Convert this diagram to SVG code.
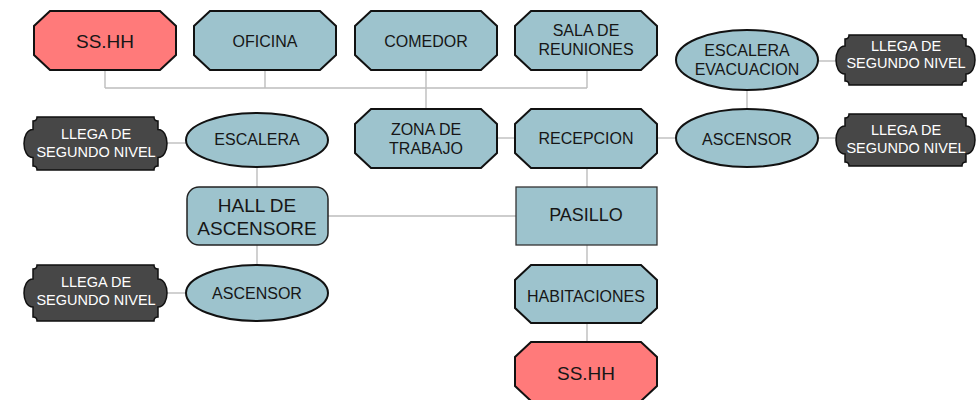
<svg xmlns="http://www.w3.org/2000/svg" width="976" height="400" viewBox="0 0 976 400">
<style>
.bg{fill:#ffffff}
.con line{stroke:#bdbdbd;stroke-width:1.4;fill:none}
.oct{fill:#9dc3cd;stroke:#111;stroke-width:2}
.red{fill:#ff7a7a;stroke:#111;stroke-width:2}
.ell{fill:#9dc3cd;stroke:#111;stroke-width:2}
.hall{fill:#9dc3cd;stroke:#222;stroke-width:1.5}
.rect{fill:#9dc3cd;stroke:#333;stroke-width:1.3}
.plq{fill:#474747;stroke:#111;stroke-width:1.5}
text{font-family:"Liberation Sans",Arial,sans-serif;fill:#161616;text-anchor:middle}
.t16{font-size:16px}
.t19{font-size:19px}
.t18{font-size:18px}
.w{fill:#ffffff;font-size:14.5px}
</style>
<rect class="bg" x="0" y="0" width="976" height="400"/>
<g id="connectors" class="con">
<line x1="105" y1="88" x2="587" y2="88"/>
<line x1="105" y1="70" x2="105" y2="88"/>
<line x1="265" y1="70" x2="265" y2="88"/>
<line x1="426" y1="70" x2="426" y2="109"/>
<line x1="587" y1="70" x2="587" y2="88"/>
<line x1="497" y1="138" x2="515" y2="138"/>
<line x1="657" y1="138" x2="676" y2="138"/>
<line x1="747" y1="90" x2="747" y2="109"/>
<line x1="818" y1="61" x2="837" y2="61"/>
<line x1="818" y1="138" x2="837" y2="138"/>
<line x1="587" y1="168" x2="587" y2="187"/>
<line x1="328" y1="216" x2="516" y2="216"/>
<line x1="587" y1="245" x2="587" y2="265"/>
<line x1="587" y1="323" x2="587" y2="342"/>
<line x1="257" y1="167" x2="257" y2="187"/>
<line x1="257" y1="245" x2="257" y2="265"/>
<line x1="167" y1="143" x2="186" y2="143"/>
<line x1="167" y1="293" x2="186" y2="293"/>
</g>
<g id="sshh-top">
<polygon class="red" points="50,11 160,11 176,26 176,55 160,70 50,70 34,55 34,26"/>
<text class="t19" x="105" y="47.5">SS.HH</text>
</g>
<g id="oficina">
<polygon class="oct" points="210,11 320,11 336,26 336,55 320,70 210,70 194,55 194,26"/>
<text class="t16" x="265" y="46.5">OFICINA</text>
</g>
<g id="comedor">
<polygon class="oct" points="371,11 481,11 497,26 497,55 481,70 371,70 355,55 355,26"/>
<text class="t16" x="426" y="46.5">COMEDOR</text>
</g>
<g id="sala-reuniones">
<polygon class="oct" points="531,11 641,11 657,26 657,55 641,70 531,70 515,55 515,26"/>
<text class="t16" x="586" y="36">SALA DE</text>
<text class="t16" x="586" y="55">REUNIONES</text>
</g>
<g id="zona-trabajo">
<polygon class="oct" points="371,109 481,109 497,124 497,153 481,168 371,168 355,153 355,124"/>
<text class="t16" x="426" y="134.5">ZONA DE</text>
<text class="t16" x="426" y="154">TRABAJO</text>
</g>
<g id="recepcion">
<polygon class="oct" points="531,109 641,109 657,124 657,153 641,168 531,168 515,153 515,124"/>
<text class="t16" x="586" y="144">RECEPCION</text>
</g>
<g id="pasillo">
<rect class="rect" x="516" y="187" width="141" height="58"/>
<text class="t18" x="586" y="221">PASILLO</text>
</g>
<g id="habitaciones">
<polygon class="oct" points="531,265 641,265 657,280 657,308 641,323 531,323 515,308 515,280"/>
<text class="t16" x="586" y="302">HABITACIONES</text>
</g>
<g id="sshh-bottom">
<polygon class="red" points="531,342 641,342 657,357 657,386 641,401 531,401 515,386 515,357"/>
<text class="t19" x="586" y="380">SS.HH</text>
</g>
<g id="hall-ascensores">
<rect class="hall" x="187" y="187" width="141" height="58" rx="12" ry="12"/>
<text class="t19" x="257" y="211.5">HALL DE</text>
<text class="t19" x="257" y="235">ASCENSORE</text>
</g>
<g id="escalera-left">
<ellipse class="ell" cx="257" cy="140" rx="71" ry="27"/>
<text class="t16" x="257" y="145">ESCALERA</text>
</g>
<g id="ascensor-left">
<ellipse class="ell" cx="257" cy="293" rx="71" ry="28"/>
<text class="t16" x="257" y="299">ASCENSOR</text>
</g>
<g id="escalera-evacuacion">
<ellipse class="ell" cx="747" cy="60" rx="71" ry="30"/>
<text class="t16" x="747" y="56">ESCALERA</text>
<text class="t16" x="747" y="75">EVACUACION</text>
</g>
<g id="ascensor-right">
<ellipse class="ell" cx="747" cy="138" rx="71" ry="29"/>
<text class="t16" x="747" y="144.5">ASCENSOR</text>
</g>
<g id="llega-right-top">
<path class="plq" d="M849 35 L962 35 Q962 39 966 39 L966 46 C978 46 978 74 966 74 L966 81 Q962 81 962 85 L849 85 Q849 81 845 81 L845 74 C833 74 833 46 845 46 L845 39 Q849 39 849 35 Z"/>
<text class="w" x="906" y="50.5">LLEGA DE</text>
<text class="w" x="906" y="68">SEGUNDO NIVEL</text>
</g>
<g id="llega-right-bottom">
<path class="plq" d="M849 114 L962 114 Q962 118 966 118 L966 126 C978 126 978 154 966 154 L966 162 Q962 162 962 166 L849 166 Q849 162 845 162 L845 154 C833 154 833 126 845 126 L845 118 Q849 118 849 114 Z"/>
<text class="w" x="906" y="135">LLEGA DE</text>
<text class="w" x="906" y="153">SEGUNDO NIVEL</text>
</g>
<g id="llega-left-top">
<path class="plq" d="M37 117 L154 117 Q154 121 158 121 L158 129.5 C170 129.5 170 157.5 158 157.5 L158 166 Q154 166 154 170 L37 170 Q37 166 33 166 L33 157.5 C21 157.5 21 129.5 33 129.5 L33 121 Q37 121 37 117 Z"/>
<text class="w" x="96" y="139">LLEGA DE</text>
<text class="w" x="96" y="156.5">SEGUNDO NIVEL</text>
</g>
<g id="llega-left-bottom">
<path class="plq" d="M37 265 L154 265 Q154 269 158 269 L158 279 C170 279 170 307 158 307 L158 317 Q154 317 154 321 L37 321 Q37 317 33 317 L33 307 C21 307 21 279 33 279 L33 269 Q37 269 37 265 Z"/>
<text class="w" x="96" y="287">LLEGA DE</text>
<text class="w" x="96" y="305">SEGUNDO NIVEL</text>
</g>
</svg>
